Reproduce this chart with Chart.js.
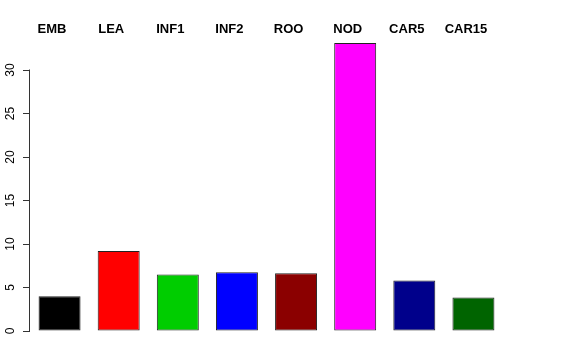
<!DOCTYPE html>
<html>
<head>
    <title>Barplot</title>
    <script src="https://cdn.jsdelivr.net/npm/chart.js"></script>
    <style>
        body { margin: 0; background: white; }
        .chart-container { width: 576px; height: 360px; }
    </style>
</head>
<body>
    <div class="chart-container">
        <canvas id="myChart"></canvas>
    </div>
    <script>
        // datos
        const categories = ['EMB', 'LEA', 'INF1', 'INF2', 'ROO', 'NOD', 'CAR5', 'CAR15'];
        const values = [4.0, 9.2, 6.5, 6.75, 6.65, 33.1, 5.8, 3.85];
        const barColors = ['#000000', '#FF0000', '#00CD00', '#0000FF', '#8B0000', '#FF00FF', '#00008B', '#006400'];
        const yTicks = [0, 5, 10, 15, 20, 25, 30];

        // linea del eje y solo entre 0 y 30, como en R
        const axisLine = {
            id: 'axisLine',
            afterDraw(chart) {
                const y = chart.scales.y;
                const ctx = chart.ctx;
                ctx.save();
                ctx.strokeStyle = '#333';
                ctx.lineWidth = 1;
                ctx.beginPath();
                ctx.moveTo(y.right - 0.5, y.getPixelForValue(yTicks[0]) + 0.5);
                ctx.lineTo(y.right - 0.5, y.getPixelForValue(yTicks[yTicks.length - 1]) - 0.5);
                ctx.stroke();
                ctx.restore();
            }
        };

        const ctx = document.getElementById('myChart').getContext('2d');
        const myChart = new Chart(ctx, {
            type: 'bar',
            data: {
                labels: categories,
                datasets: [{
                    data: values,
                    backgroundColor: barColors,
                    borderColor: '#222',
                    borderWidth: 1,
                    borderSkipped: false,
                    barPercentage: 0.71,
                    categoryPercentage: 1.0
                }]
            },
            options: {
                responsive: true,
                maintainAspectRatio: false,
                animation: false,
                layout: { padding: { left: 0, right: 73, top: 0, bottom: 29 } },
                plugins: {
                    legend: { display: false },
                    tooltip: { enabled: false }
                },
                scales: {
                    x: {
                        display: false
                    },
                    // nombres arriba, un poco corridos a la izquierda
                    x2: {
                        type: 'category',
                        labels: categories,
                        position: 'top',
                        offset: true,
                        grid: { display: false, drawTicks: false },
                        border: { display: false },
                        afterFit: function(scale) {
                            scale.height = 40;
                        },
                        ticks: {
                            autoSkip: false,
                            maxRotation: 0,
                            minRotation: 0,
                            labelOffset: -7.5,
                            padding: 3,
                            color: '#000',
                            font: { family: 'Liberation Sans', size: 13, weight: 'bold' }
                        }
                    },
                    y: {
                        min: 0,
                        max: 33.45,
                        grid: { display: true, drawOnChartArea: false, drawTicks: true, tickLength: 7, color: '#333' },
                        border: { display: false },
                        afterBuildTicks: function(scale) {
                            scale.ticks = yTicks.map(v => ({ value: v }));
                        },
                        afterFit: function(scale) {
                            scale.width = 30;
                        },
                        ticks: {
                            minRotation: 90,
                            maxRotation: 90,
                            crossAlign: 'center',
                            padding: 6,
                            color: '#000',
                            font: { family: 'Liberation Sans', size: 12 }
                        }
                    }
                }
            },
            plugins: [axisLine]
        });
    </script>
</body>
</html>
